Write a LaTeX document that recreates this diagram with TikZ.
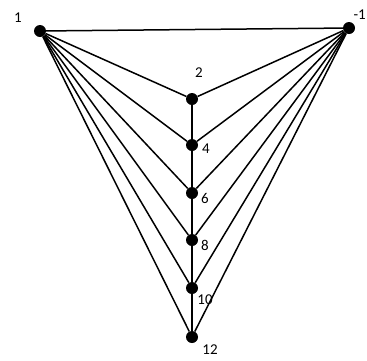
\documentclass[tikz,border=0pt]{standalone}
\usepackage{fontspec}
\setmainfont{Carlito}
\usetikzlibrary{positioning}

\begin{document}
\begin{tikzpicture}[x=1pt,y=-1pt]
  % Styles local to this figure.
  \tikzset{
    vert/.style={circle,fill=black,minimum size=12pt,inner sep=0pt},
    lab/.style={font=\fontsize{15}{15}\selectfont,inner sep=1pt},
    wire/.style={line width=1.5pt}
  }
  \useasboundingbox (0,0) rectangle (367,360);

  % Two top corners.
  \node[vert] (v1) at (40,31) {};
  \node[vert] (vm1) at (349,28) {};
  \node[lab] at (18,18) {1};
  \node[lab,anchor=east] at (367,15) {-1};

  % Middle column of vertices with their labels.
  \node[vert] (v2) at (192,99) {};
  \node[vert] (v4) at (192,145) {};
  \node[vert] (v6) at (192,193) {};
  \node[vert] (v8) at (192,240) {};
  \node[vert] (v10) at (192,288) {};
  \node[vert] (v12) at (192,337) {};
  \node[lab] at (199,73) {2};
  \node[lab] at (206,149) {4};
  \node[lab] at (205,198) {6};
  \node[lab] at (205,245) {8};
  \node[lab] at (205,300) {10};
  \node[lab] at (210,350) {12};

  % Edges.
  \draw[wire] (v1) -- (vm1);
  \draw[wire] (v2) -- (v12);
  \foreach \k in {2,4,6,8,10,12} {
    \draw[wire] (v1) -- (v\k);
    \draw[wire] (vm1) -- (v\k);
  }
\end{tikzpicture}
\end{document}
